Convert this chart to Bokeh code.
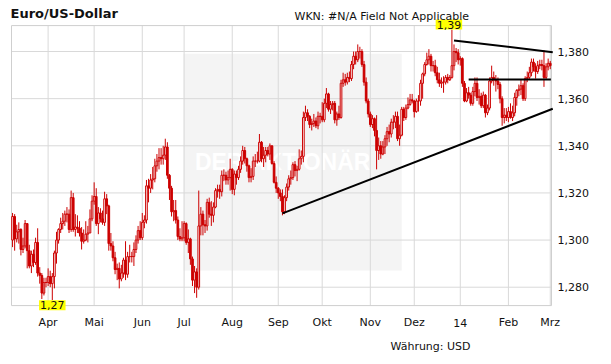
import pandas as pd
from bokeh.plotting import figure
from bokeh.models import Range1d, Label
from bokeh.core.properties import value
from bokeh.embed import file_html
from bokeh.resources import INLINE

# ---------------- data (EUR/USD daily OHLC) ----------------
start_date = "2013-03-07"
month_labels = ["Apr", "Mai", "Jun", "Jul", "Aug", "Sep", "Okt", "Nov", "Dez", "14", "Feb", "Mrz"]
y_ticks = [1.28, 1.30, 1.32, 1.34, 1.36, 1.38]

open_ = [
    # Mar 2013
    1.3000, 1.3100, 1.3005, 1.3035, 1.3045, 1.2960, 1.2975, 1.3070, 1.2955, 1.2890, 1.2940, 1.2905, 1.2990, 1.2860, 1.2850, 1.2775, 1.2820,
    # Apr
    1.2820, 1.2845, 1.2815, 1.2845, 1.2945, 1.3000, 1.3045, 1.3070, 1.3080, 1.3110, 1.3110, 1.3045, 1.3180, 1.3045, 1.3055, 1.3050, 1.3030, 1.2995, 1.3000, 1.3025, 1.3030, 1.3090,
    # May
    1.3165, 1.3185, 1.3070, 1.3115, 1.3090, 1.3075, 1.3175, 1.3145, 1.2985, 1.2975, 1.2925, 1.2875, 1.2880, 1.2835, 1.2860, 1.2915, 1.2855, 1.2930, 1.2930, 1.2930, 1.2960, 1.3000, 1.3040,
    # Jun
    1.3010, 1.3075, 1.3085, 1.3230, 1.3220, 1.3255, 1.3260, 1.3315, 1.3335, 1.3350, 1.3345, 1.3360, 1.3395, 1.3275, 1.3220, 1.3120, 1.3125, 1.3085, 1.3015, 1.3005,
    # Jul
    1.3010, 1.3070, 1.2990, 1.3005, 1.2920, 1.2830, 1.2865, 1.2800, 1.3060, 1.3110, 1.3065, 1.3060, 1.3160, 1.3110, 1.3105, 1.3140, 1.3210, 1.3215, 1.3205, 1.3275, 1.3275, 1.3255, 1.3265,
    # Aug
    1.3300, 1.3215, 1.3280, 1.3265, 1.3300, 1.3335, 1.3380, 1.3345, 1.3315, 1.3265, 1.3270, 1.3335, 1.3335, 1.3335, 1.3415, 1.3345, 1.3360, 1.3380, 1.3365, 1.3400, 1.3325, 1.3245,
    # Sep
    1.3220, 1.3200, 1.3185, 1.3120, 1.3180, 1.3225, 1.3260, 1.3265, 1.3320, 1.3295, 1.3300, 1.3345, 1.3355, 1.3520, 1.3540, 1.3525, 1.3490, 1.3495, 1.3505, 1.3485, 1.3525,
    # Oct
    1.3525, 1.3510, 1.3580, 1.3620, 1.3555, 1.3575, 1.3580, 1.3510, 1.3535, 1.3520, 1.3665, 1.3680, 1.3670, 1.3690, 1.3685, 1.3745, 1.3780, 1.3765, 1.3800, 1.3800, 1.3745, 1.3670, 1.3590,
    # Nov
    1.3535, 1.3490, 1.3515, 1.3465, 1.3380, 1.3400, 1.3365, 1.3395, 1.3430, 1.3460, 1.3450, 1.3500, 1.3500, 1.3525, 1.3430, 1.3445, 1.3555, 1.3520, 1.3560, 1.3575, 1.3595,
    # Dec
    1.3590, 1.3545, 1.3590, 1.3590, 1.3665, 1.3705, 1.3745, 1.3765, 1.3780, 1.3740, 1.3740, 1.3710, 1.3680, 1.3665, 1.3670, 1.3670, 1.3690, 1.3680, 1.3690, 1.3740, 1.3800, 1.3795,
    # Jan 2014
    1.3765, 1.3770, 1.3665, 1.3590, 1.3625, 1.3615, 1.3580, 1.3630, 1.3665, 1.3605, 1.3610, 1.3570, 1.3615, 1.3540, 1.3560, 1.3675, 1.3690, 1.3680, 1.3675, 1.3660, 1.3600, 1.3520, 1.3530,
    # Feb
    1.3520, 1.3545, 1.3520, 1.3540, 1.3605, 1.3635, 1.3640, 1.3655, 1.3600, 1.3685, 1.3690, 1.3710, 1.3755, 1.3735, 1.3715, 1.3740, 1.3745, 1.3740, 1.3690, 1.3735,
    # Mar
    1.3750,
]
high = [
    1.3115, 1.3110, 1.3065, 1.3075, 1.3050, 1.3010, 1.3085, 1.3070, 1.2980, 1.2955, 1.2960, 1.3010, 1.3050, 1.2885, 1.2860, 1.2840, 1.2840,
    1.2880, 1.2870, 1.2860, 1.2955, 1.3035, 1.3050, 1.3095, 1.3115, 1.3125, 1.3140, 1.3130, 1.3210, 1.3200, 1.3110, 1.3105, 1.3080, 1.3055, 1.3045, 1.3080, 1.3060, 1.3130, 1.3190,
    1.3245, 1.3220, 1.3140, 1.3135, 1.3125, 1.3205, 1.3195, 1.3150, 1.3030, 1.2995, 1.2950, 1.2900, 1.2905, 1.2895, 1.2925, 1.2995, 1.2950, 1.2980, 1.2950, 1.2990, 1.3020, 1.3060, 1.3080,
    1.3115, 1.3105, 1.3255, 1.3260, 1.3280, 1.3310, 1.3345, 1.3365, 1.3390, 1.3390, 1.3400, 1.3430, 1.3415, 1.3280, 1.3230, 1.3170, 1.3170, 1.3100, 1.3050, 1.3080,
    1.3080, 1.3075, 1.3045, 1.3010, 1.2930, 1.2890, 1.2880, 1.3210, 1.3140, 1.3125, 1.3085, 1.3175, 1.3180, 1.3165, 1.3160, 1.3220, 1.3235, 1.3235, 1.3295, 1.3300, 1.3290, 1.3295, 1.3345,
    1.3305, 1.3295, 1.3295, 1.3315, 1.3355, 1.3400, 1.3395, 1.3350, 1.3320, 1.3305, 1.3355, 1.3365, 1.3375, 1.3450, 1.3420, 1.3395, 1.3395, 1.3395, 1.3410, 1.3400, 1.3335, 1.3270,
    1.3225, 1.3215, 1.3215, 1.3190, 1.3240, 1.3275, 1.3295, 1.3330, 1.3335, 1.3315, 1.3385, 1.3380, 1.3545, 1.3570, 1.3555, 1.3530, 1.3515, 1.3535, 1.3520, 1.3545, 1.3540,
    1.3585, 1.3600, 1.3645, 1.3625, 1.3590, 1.3590, 1.3590, 1.3545, 1.3570, 1.3680, 1.3710, 1.3705, 1.3710, 1.3715, 1.3760, 1.3800, 1.3800, 1.3830, 1.3820, 1.3810, 1.3760, 1.3690, 1.3600,
    1.3545, 1.3530, 1.3520, 1.3530, 1.3435, 1.3420, 1.3420, 1.3445, 1.3480, 1.3490, 1.3515, 1.3530, 1.3545, 1.3545, 1.3490, 1.3565, 1.3565, 1.3575, 1.3605, 1.3620, 1.3620,
    1.3595, 1.3600, 1.3615, 1.3680, 1.3710, 1.3755, 1.3795, 1.3810, 1.3790, 1.3760, 1.3765, 1.3735, 1.3710, 1.3690, 1.3695, 1.3700, 1.3705, 1.3700, 1.3893, 1.3830, 1.3815, 1.3810,
    1.3780, 1.3775, 1.3675, 1.3645, 1.3650, 1.3625, 1.3650, 1.3690, 1.3690, 1.3640, 1.3625, 1.3630, 1.3620, 1.3575, 1.3690, 1.3740, 1.3715, 1.3700, 1.3690, 1.3670, 1.3610, 1.3560, 1.3560,
    1.3565, 1.3580, 1.3570, 1.3625, 1.3640, 1.3660, 1.3680, 1.3665, 1.3695, 1.3715, 1.3735, 1.3770, 1.3770, 1.3750, 1.3760, 1.3765, 1.3765, 1.3805, 1.3750, 1.3770,
    1.3760,
]
low = [
    1.2970, 1.2955, 1.2990, 1.2985, 1.2935, 1.2945, 1.2965, 1.2880, 1.2880, 1.2860, 1.2885, 1.2895, 1.2845, 1.2815, 1.2750, 1.2765, 1.2800,
    1.2805, 1.2800, 1.2745, 1.2795, 1.2900, 1.2985, 1.3030, 1.3045, 1.3060, 1.3075, 1.3030, 1.3035, 1.3035, 1.3015, 1.3030, 1.3015, 1.2960, 1.2985, 1.2995, 1.2990, 1.3030, 1.3080,
    1.3150, 1.3060, 1.3025, 1.3075, 1.3065, 1.3060, 1.3110, 1.2955, 1.2955, 1.2910, 1.2855, 1.2830, 1.2795, 1.2825, 1.2840, 1.2830, 1.2840, 1.2905, 1.2905, 1.2890, 1.2945, 1.2985, 1.3000,
    1.3000, 1.3050, 1.3070, 1.3160, 1.3200, 1.3215, 1.3245, 1.3290, 1.3300, 1.3320, 1.3320, 1.3340, 1.3260, 1.3170, 1.3100, 1.3080, 1.3070, 1.3000, 1.2995, 1.2995,
    1.2995, 1.2980, 1.2945, 1.2895, 1.2805, 1.2775, 1.2755, 1.2790, 1.3020, 1.3020, 1.3030, 1.3040, 1.3095, 1.3060, 1.3075, 1.3135, 1.3180, 1.3175, 1.3185, 1.3250, 1.3235, 1.3235, 1.3210,
    1.3195, 1.3190, 1.3235, 1.3255, 1.3285, 1.3320, 1.3325, 1.3290, 1.3245, 1.3245, 1.3255, 1.3310, 1.3325, 1.3330, 1.3330, 1.3310, 1.3330, 1.3355, 1.3340, 1.3320, 1.3240, 1.3200,
    1.3175, 1.3165, 1.3105, 1.3110, 1.3165, 1.3210, 1.3235, 1.3255, 1.3270, 1.3250, 1.3295, 1.3320, 1.3330, 1.3505, 1.3505, 1.3475, 1.3465, 1.3480, 1.3475, 1.3470, 1.3495,
    1.3500, 1.3500, 1.3560, 1.3545, 1.3535, 1.3550, 1.3495, 1.3485, 1.3510, 1.3515, 1.3650, 1.3655, 1.3660, 1.3670, 1.3675, 1.3725, 1.3745, 1.3755, 1.3770, 1.3735, 1.3655, 1.3580, 1.3520,
    1.3480, 1.3475, 1.3440, 1.3300, 1.3340, 1.3345, 1.3360, 1.3365, 1.3400, 1.3415, 1.3435, 1.3470, 1.3475, 1.3420, 1.3400, 1.3440, 1.3505, 1.3510, 1.3555, 1.3570, 1.3580,
    1.3520, 1.3540, 1.3545, 1.3570, 1.3600, 1.3695, 1.3740, 1.3745, 1.3715, 1.3715, 1.3695, 1.3665, 1.3650, 1.3645, 1.3625, 1.3660, 1.3665, 1.3675, 1.3685, 1.3720, 1.3755, 1.3745,
    1.3740, 1.3650, 1.3585, 1.3585, 1.3600, 1.3570, 1.3570, 1.3610, 1.3590, 1.3575, 1.3560, 1.3560, 1.3520, 1.3530, 1.3550, 1.3665, 1.3655, 1.3630, 1.3640, 1.3580, 1.3485, 1.3495, 1.3505,
    1.3500, 1.3515, 1.3505, 1.3525, 1.3570, 1.3610, 1.3615, 1.3590, 1.3590, 1.3670, 1.3680, 1.3695, 1.3715, 1.3685, 1.3705, 1.3725, 1.3720, 1.3650, 1.3680, 1.3720,
    1.3725,
]
close = [
    1.3100, 1.3005, 1.3035, 1.3045, 1.2960, 1.2975, 1.3070, 1.2955, 1.2890, 1.2940, 1.2905, 1.2990, 1.2860, 1.2850, 1.2775, 1.2820, 1.2820,
    1.2845, 1.2815, 1.2845, 1.2945, 1.3000, 1.3045, 1.3070, 1.3080, 1.3110, 1.3110, 1.3045, 1.3180, 1.3045, 1.3055, 1.3050, 1.3030, 1.2995, 1.3000, 1.3025, 1.3030, 1.3090, 1.3165,
    1.3185, 1.3070, 1.3115, 1.3090, 1.3075, 1.3175, 1.3145, 1.2985, 1.2975, 1.2925, 1.2875, 1.2880, 1.2835, 1.2860, 1.2915, 1.2855, 1.2930, 1.2930, 1.2930, 1.2960, 1.3000, 1.3040, 1.3010,
    1.3075, 1.3085, 1.3230, 1.3220, 1.3255, 1.3260, 1.3315, 1.3335, 1.3350, 1.3345, 1.3360, 1.3395, 1.3275, 1.3220, 1.3120, 1.3125, 1.3085, 1.3015, 1.3005, 1.3010,
    1.3070, 1.2990, 1.3005, 1.2920, 1.2830, 1.2865, 1.2800, 1.3060, 1.3110, 1.3065, 1.3060, 1.3160, 1.3110, 1.3105, 1.3140, 1.3210, 1.3215, 1.3205, 1.3275, 1.3275, 1.3255, 1.3265, 1.3300,
    1.3215, 1.3280, 1.3265, 1.3300, 1.3335, 1.3380, 1.3345, 1.3315, 1.3265, 1.3270, 1.3335, 1.3335, 1.3335, 1.3415, 1.3345, 1.3360, 1.3380, 1.3365, 1.3400, 1.3325, 1.3245, 1.3220,
    1.3200, 1.3185, 1.3120, 1.3180, 1.3225, 1.3260, 1.3265, 1.3320, 1.3295, 1.3300, 1.3345, 1.3355, 1.3520, 1.3540, 1.3525, 1.3490, 1.3495, 1.3505, 1.3485, 1.3525, 1.3525,
    1.3510, 1.3580, 1.3620, 1.3555, 1.3575, 1.3580, 1.3510, 1.3535, 1.3520, 1.3665, 1.3680, 1.3670, 1.3690, 1.3685, 1.3745, 1.3780, 1.3765, 1.3800, 1.3800, 1.3745, 1.3670, 1.3590, 1.3535,
    1.3490, 1.3515, 1.3465, 1.3380, 1.3400, 1.3365, 1.3395, 1.3430, 1.3460, 1.3450, 1.3500, 1.3500, 1.3525, 1.3430, 1.3445, 1.3555, 1.3520, 1.3560, 1.3575, 1.3595, 1.3590,
    1.3545, 1.3590, 1.3590, 1.3665, 1.3705, 1.3745, 1.3765, 1.3780, 1.3740, 1.3740, 1.3710, 1.3680, 1.3665, 1.3670, 1.3670, 1.3690, 1.3680, 1.3690, 1.3740, 1.3800, 1.3795, 1.3765,
    1.3770, 1.3665, 1.3590, 1.3625, 1.3615, 1.3580, 1.3630, 1.3665, 1.3605, 1.3610, 1.3570, 1.3615, 1.3540, 1.3560, 1.3675, 1.3690, 1.3680, 1.3675, 1.3660, 1.3600, 1.3520, 1.3530, 1.3520,
    1.3545, 1.3520, 1.3540, 1.3605, 1.3635, 1.3640, 1.3655, 1.3600, 1.3685, 1.3690, 1.3710, 1.3755, 1.3735, 1.3715, 1.3740, 1.3745, 1.3740, 1.3690, 1.3735, 1.3750,
    1.3740,
]

# trend lines drawn on the chart (trading-day index / price)
upper_line_x = [211, 258.5]
upper_line_y = [1.3847, 1.3797]
lower_line_x = [129, 258.5]
lower_line_y = [1.3113, 1.3558]
flat_line_x = [218, 257.3]
flat_line_y = [1.3681, 1.3681]

# ---------------- layout constants (styling only) ----------------
X_LO, X_HI = -0.5, 257.6          # inner plot area, trading-day index
Y_LO, Y_HI = 1.2722, 1.3910        # inner plot area, price
RED = "#cc0000"
GRID = "#d9d9d9"
FONT = "DejaVu Sans"
TXT = "#111111"

# ---------------- build ----------------
n = len(close)
dates = pd.bdate_range(start_date, periods=n)
idx = list(range(n))
tick_pos = [i for i in range(1, n) if dates[i].month != dates[i - 1].month]
y_tick_text = [f"{t:.3f}".replace(".", ",") for t in y_ticks]

p = figure(width=603, height=356, output_backend="svg", toolbar_location=None,
           x_range=Range1d(-5.76, 282.45), y_range=Range1d(1.25060, 1.40164),
           x_axis_location=None, y_axis_location=None,
           min_border_left=0, min_border_right=0, min_border_top=0, min_border_bottom=0,
           background_fill_color="white", border_fill_color="white")
p.outline_line_color = None
p.xgrid.visible = False
p.ygrid.visible = False

# watermark panel
p.quad(left=[81.7], right=[186.0], bottom=[1.2871], top=[1.3791],
       fill_color="#f4f4f4", line_color=None)
p.text(x=[129.3], y=[1.3333], text=["DER AKTIONÄR"], text_font=value("Liberation Sans"),
       text_font_style="bold", text_font_size="23px", text_color="white",
       text_baseline="middle", text_align="center")

# grid lines (month starts / price ticks) inside the plot area
p.segment(x0=tick_pos, y0=[Y_LO] * len(tick_pos), x1=tick_pos, y1=[Y_HI] * len(tick_pos),
          line_color=GRID, line_width=1)
p.segment(x0=[X_LO] * len(y_ticks), y0=y_ticks, x1=[X_HI] * len(y_ticks), y1=y_ticks,
          line_color=GRID, line_width=1)
# plot-area border
p.quad(left=[X_LO], right=[X_HI], bottom=[Y_LO], top=[Y_HI], fill_color=None,
       line_color="#cfcfcf", line_width=1)

# candles
up = [i for i in idx if close[i] >= open_[i]]
dn = [i for i in idx if close[i] < open_[i]]
p.segment(x0=idx, y0=low, x1=idx, y1=high, line_color=RED, line_width=1)
p.vbar(x=up, width=0.8, top=[close[i] for i in up], bottom=[open_[i] for i in up],
       fill_color="white", line_color=RED, line_width=1)
p.vbar(x=dn, width=0.8, top=[open_[i] for i in dn], bottom=[close[i] for i in dn],
       fill_color=RED, line_color=RED, line_width=1)

# trend lines (clipped to the plot area's right edge)
for xs, ys in ((upper_line_x, upper_line_y), (lower_line_x, lower_line_y), (flat_line_x, flat_line_y)):
    x1 = min(xs[1], X_HI + 0.6)
    y1 = ys[0] + (ys[1] - ys[0]) * (x1 - xs[0]) / (xs[1] - xs[0])
    p.line([xs[0], x1], [ys[0], y1], line_color="black", line_width=2)

# axis labels: months below, prices on the right
p.text(x=tick_pos, y=[1.26502] * len(tick_pos), text=month_labels, text_font=value(FONT),
       text_font_size="11px", text_color=TXT, text_align="center", text_baseline="alphabetic")
p.text(x=[260.47] * len(y_ticks), y=y_ticks, text=y_tick_text, text_font=value(FONT),
       text_font_size="11px", text_color=TXT, text_align="left", text_baseline="middle")

# high / low markers
imax = max(idx, key=lambda i: high[i])
imin = min(idx, key=lambda i: low[i])
p.add_layout(Label(x=imax, y=high[imax], text="1,39", text_font=FONT, text_font_size="11px",
                   text_align="center", text_baseline="bottom", x_offset=-3, text_color=TXT,
                   background_fill_color="#ffff00", padding=1))
p.add_layout(Label(x=imin, y=low[imin], text="1,27", text_font=FONT, text_font_size="11px",
                   text_align="center", text_baseline="top", text_color=TXT,
                   background_fill_color="#ffff00", padding=1))

# texts around the chart
p.add_layout(Label(x=-0.98, y=1.39612, text="Euro/US-Dollar", text_font=FONT, text_font_style="bold",
                   text_font_size="13px", text_baseline="alphabetic", text_color=TXT))
p.add_layout(Label(x=134.76, y=1.39506, text="WKN: #N/A Field Not Applicable", text_font=FONT,
                   text_font_size="11px", text_baseline="alphabetic", text_color=TXT))
p.add_layout(Label(x=180.64, y=1.25484, text="Währung: USD", text_font=FONT,
                   text_font_size="11px", text_baseline="alphabetic", text_color=TXT))

open("out.html", "w").write(file_html(p, INLINE))
